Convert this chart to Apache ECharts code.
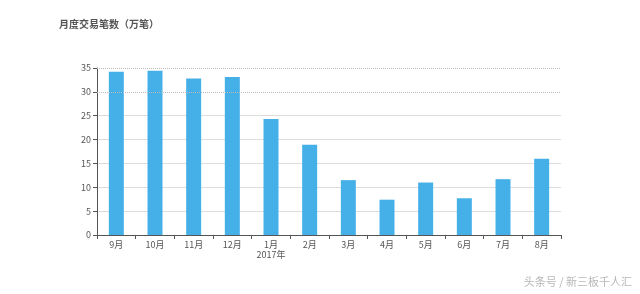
<!DOCTYPE html>
<html><head><meta charset="utf-8">
<script src="https://cdn.jsdelivr.net/npm/echarts@6/dist/echarts.min.js"></script>
<style>html,body{margin:0;padding:0;background:#fff}#c{width:640px;height:294px}</style>
</head><body><div id="c"></div>
<script>
const categories = ['9月','10月','11月','12月','1月\n2017年','2月','3月','4月','5月','6月','7月','8月'];
const values = [34.2, 34.4, 32.8, 33.1, 24.3, 18.9, 11.5, 7.4, 11.0, 7.7, 11.7, 16.0];
const yTicks = {min: 0, max: 35, interval: 5};
const dottedLevels = [30, 35];
const titleText = '月度交易笔数（万笔）';
const watermark = '头条号 / 新三板千人汇';

const chart = echarts.init(document.getElementById('c'), null, {renderer: 'canvas'});
chart.setOption({
  animation: false,
  backgroundColor: '#fff',
  title: {text: titleText, left: 54, top: 14,
    textStyle: {fontSize: 10, fontWeight: 'bold', color: '#555', fontFamily: 'Noto Sans CJK SC'}},
  graphic: [{type: 'text', right: 8, top: 276,
    style: {text: watermark, fontSize: 11, fill: '#b8b8b8', fontFamily: 'Noto Sans CJK SC'}}],
  grid: {left: 97, right: 79, top: 68, bottom: 59},
  xAxis: {type: 'category', data: categories,
    axisLine: {lineStyle: {color: '#555', width: 1}},
    axisTick: {show: true, length: 4, lineStyle: {color: '#555'}},
    axisLabel: {fontSize: 9, color: '#555', margin: 5, lineHeight: 10, fontFamily: 'Noto Sans CJK SC'}},
  yAxis: {type: 'value', min: yTicks.min, max: yTicks.max, interval: yTicks.interval,
    axisLine: {show: true, lineStyle: {color: '#555'}},
    axisTick: {show: true, length: 4, lineStyle: {color: '#555'}},
    axisLabel: {fontSize: 9, color: '#555', margin: 6, fontFamily: 'Noto Sans CJK SC'},
    splitLine: {show: true, lineStyle: {color: ['#ddd','#ddd','#ddd','#ddd','#ddd','#ddd','transparent','transparent'], width: 1}}},
  series: [{type: 'bar', data: values, barWidth: 15,
    itemStyle: {color: '#45b0e8'},
    markLine: {silent: true, symbol: 'none', label: {show: false},
      lineStyle: {type: [1, 1], color: '#bbb', width: 1},
      data: dottedLevels.map(v => ({yAxis: v}))}}]
});
</script></body></html>
